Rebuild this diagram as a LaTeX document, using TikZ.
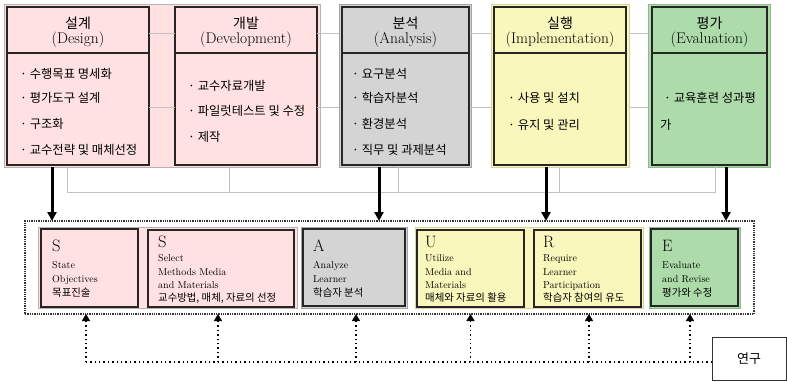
\documentclass[tikz,border=0pt]{standalone}
\usepackage{fontspec}
\newfontfamily\kr{Noto Sans CJK KR}
\usetikzlibrary{arrows.meta}
\definecolor{pinkf}{HTML}{FFE1E1}
\definecolor{pinkb}{HTML}{BFAEAE}
\definecolor{greyf}{HTML}{D4D4D4}
\definecolor{greyb}{HTML}{A4A4A4}
\definecolor{yelf}{HTML}{FAF7BD}
\definecolor{yelb}{HTML}{D6D3A0}
\definecolor{grnf}{HTML}{ADDBAA}
\definecolor{grnb}{HTML}{8DBB8A}
\definecolor{glc}{HTML}{C2C2C2}
\begin{document}
\begin{tikzpicture}[x=1pt,y=-1pt,
  bgbox/.style={draw, line width=1pt, inner sep=0pt, outer sep=0pt, anchor=north west},
  inbox/.style={draw=black!85, line width=1.2pt, inner sep=0pt, outer sep=0pt, anchor=north west},
  gl/.style={draw=glc, line width=0.8pt},
  bigarrow/.style={line width=3pt, -{Triangle[length=9pt,width=9pt]}},
  dotline/.style={line width=1.4pt, dash pattern=on 1.4pt off 3pt},
  dotarrow/.style={line width=1.4pt, dash pattern=on 1.4pt off 3pt, -{Triangle[length=7pt,width=8pt]}},
  kbody/.style={font=\kr\fontsize{12.3}{14}\selectfont, anchor=base west, inner sep=0pt},
  khead/.style={font=\kr\fontsize{14}{16}\selectfont, anchor=base, inner sep=0pt},
  ehead/.style={font=\fontsize{15.5}{17}\selectfont, anchor=base, inner sep=0pt},
  bigl/.style={font=\fontsize{16.5}{18}\selectfont, anchor=base west, inner sep=0pt},
  esmall/.style={font=\fontsize{10}{11}\selectfont, anchor=base west, inner sep=0pt},
  ksmall/.style={font=\kr\fontsize{10.4}{11}\selectfont, anchor=base west, inner sep=0pt}]
\useasboundingbox (0,0) rectangle (787,381);
\fill[white] (0,0) rectangle (787,381);

% ---------- top row ----------
\node[bgbox, draw=pinkb, fill=pinkf, minimum width=316pt, minimum height=163pt] (pinkbg) at (4,4) {};
\node[inbox, fill=pinkf, minimum width=142pt, minimum height=158pt] (design) at (7,7) {};
\node[inbox, fill=pinkf, minimum width=142pt, minimum height=158pt] (dev) at (175,7) {};
\node[bgbox, draw=greyb, fill=greyf, minimum width=132pt, minimum height=163pt] (anabg) at (339,4) {};
\node[inbox, fill=greyf, minimum width=127pt, minimum height=158pt] (ana) at (342,7) {};
\node[bgbox, draw=yelb, fill=yelf, minimum width=138pt, minimum height=163pt] (impbg) at (491,4) {};
\node[inbox, fill=yelf, minimum width=132pt, minimum height=158pt] (imp) at (494,7) {};
\node[bgbox, draw=grnb, fill=grnf, minimum width=122pt, minimum height=163pt] (evabg) at (648,4) {};
\node[inbox, fill=grnf, minimum width=115pt, minimum height=158pt] (eva) at (652,7) {};

% header dividers
\coordinate (hdy) at (0,53);
\foreach \b in {design,dev,ana,imp,eva}
  \draw[black!85, line width=1.1pt] (\b.west |- hdy) -- (\b.east |- hdy);

% grey connecting lines between boxes
\coordinate (gy1) at (0,33);
\coordinate (gy2) at (0,107);
\foreach \y in {gy1,gy2}{
  \draw[gl] (design.east |- \y) -- (dev.west |- \y);
  \draw[gl] (dev.east |- \y) -- (anabg.west |- \y);
  \draw[gl] (anabg.east |- \y) -- (impbg.west |- \y);
  \draw[gl] (impbg.east |- \y) -- (evabg.west |- \y);
}

% grey bracket under the top row
\coordinate (gb) at (0,192);
\coordinate (gs1) at ([xshift=63pt]pinkbg.south west);
\coordinate (gs2) at ([xshift=225pt]pinkbg.south west);
\coordinate (gs3) at ([xshift=59pt]anabg.south west);
\coordinate (gs4) at ([xshift=68pt]impbg.south west);
\coordinate (gs5) at ([xshift=67pt]evabg.south west);
\draw[gl] (gs1) -- (gs1 |- gb) -- (gs5 |- gb) -- (gs5);
\draw[gl] (gs2) -- (gs2 |- gb);
\draw[gl] (gs3) -- (gs3 |- gb);
\draw[gl] (gs4) -- (gs4 |- gb);

% headers
\node[khead] (dh1) at (78,28) {설계};
\node[ehead] (dh2) at (78,43.5) {(Design)};
\node[khead] (vh1) at (246,28) {개발};
\node[ehead] (vh2) at (246,43.5) {(Development)};
\node[khead] (ah1) at (405.5,28) {분석};
\node[ehead] (ah2) at (405.5,43.5) {(Analysis)};
\node[khead] (ih1) at (560,28) {실행};
\node[ehead] (ih2) at (560,43.5) {(Implementation)};
\node[khead] (eh1) at (709.5,28) {평가};
\node[ehead] (eh2) at (709.5,43.5) {(Evaluation)};

% body texts
\node[kbody] (db1) at (20,78) {· 수행목표 명세화};
\node[kbody] (db2) at (20,102.5) {· 평가도구 설계};
\node[kbody] (db3) at (20,128) {· 구조화};
\node[kbody] (db4) at (20,154.5) {· 교수전략 및 매체선정};
\node[kbody] (vb1) at (188,90) {· 교수자료개발};
\node[kbody] (vb2) at (188,115) {· 파일럿테스트 및 수정};
\node[kbody] (vb3) at (188,141) {· 제작};
\node[kbody] (ab1) at (352,78) {· 요구분석};
\node[kbody] (ab2) at (352,102.5) {· 학습자분석};
\node[kbody] (ab3) at (352,128) {· 환경분석};
\node[kbody] (ab4) at (352,154.5) {· 직무 및 과제분석};
\node[kbody] (ib1) at (508,102.5) {· 사용 및 설치};
\node[kbody] (ib2) at (508,129) {· 유지 및 관리};
\node[kbody] (eb1) at (664,102.5) {· 교육훈련 성과평};
\node[kbody] (eb2) at (660,129) {가};

% ---------- bottom row ----------
\node[inner sep=0pt, outer sep=0pt, anchor=north west, draw=black!80, line width=1.3pt, densely dotted, minimum width=729pt, minimum height=93pt] (frame) at (25,221) {};
\node[bgbox, draw=pinkb, fill=pinkf, minimum width=259pt, minimum height=81pt] (pband) at (38,227) {};
\node[inbox, fill=pinkf, minimum width=97pt, minimum height=78pt] (s1) at (41,229) {};
\node[inbox, fill=pinkf, minimum width=146pt, minimum height=77pt] (s2) at (148,230) {};
\node[bgbox, draw=greyb, fill=greyf, minimum width=106pt, minimum height=81pt] (abg) at (301,227) {};
\node[inbox, fill=greyf, minimum width=102pt, minimum height=77pt] (a) at (303,229) {};
\node[bgbox, draw=yelb, fill=yelf, minimum width=228pt, minimum height=81pt] (yband) at (415,227) {};
\node[inbox, fill=yelf, minimum width=107pt, minimum height=77pt] (u) at (417,230) {};
\node[inbox, fill=yelf, minimum width=107pt, minimum height=77pt] (r) at (534,230) {};
\node[bgbox, draw=grnb, fill=grnf, minimum width=91pt, minimum height=81pt] (ebg) at (649,227) {};
\node[inbox, fill=grnf, minimum width=87pt, minimum height=77pt] (e) at (651,229) {};

% bottom texts
\node[bigl] (s1a) at (52,251) {S};
\node[esmall] (s1b) at (52,268) {State};
\node[esmall] (s1c) at (52,282) {Objectives};
\node[ksmall] (s1d) at (52,296.5) {목표진술};

\node[bigl] (s2a) at (158,247) {S};
\node[esmall] (s2b) at (158,261) {Select};
\node[esmall] (s2c) at (158,275) {Methods Media};
\node[esmall] (s2d) at (158,288) {and Materials};
\node[ksmall] (s2e) at (158,301.5) {교수방법, 매체, 자료의 선정};

\node[bigl] (aa) at (313,251) {A};
\node[esmall] (ab) at (313,268) {Analyze};
\node[esmall] (ac) at (313,282) {Learner};
\node[ksmall] (ad) at (313,296.5) {학습자 분석};

\node[bigl] (ua) at (425,247) {U};
\node[esmall] (ubb) at (425,261) {Utilize};
\node[esmall] (uc) at (425,275) {Media and};
\node[esmall] (ud) at (425,288) {Materials};
\node[ksmall] (ue) at (425,301.5) {매체와 자료의 활용};

\node[bigl] (ra) at (543,247) {R};
\node[esmall] (rb) at (543,261) {Require};
\node[esmall] (rc) at (543,275) {Learner};
\node[esmall] (rd) at (543,288) {Participation};
\node[ksmall] (re) at (543,301.5) {학습자 참여의 유도};

\node[bigl] (ea) at (662,251) {E};
\node[esmall] (eeb) at (662,268) {Evaluate};
\node[esmall] (ec) at (662,282) {and Revise};
\node[ksmall] (ed) at (662,296.5) {평가와 수정};

% thick arrows top -> bottom
\coordinate (ta1) at ([xshift=48pt]pinkbg.south west);
\coordinate (ta2) at ([xshift=40pt]anabg.south west);
\coordinate (ta3) at ([xshift=55pt]impbg.south west);
\coordinate (ta4) at ([xshift=78pt]evabg.south west);
\foreach \t in {ta1,ta2,ta3,ta4}
  \draw[bigarrow] (\t) -- (\t |- frame.north);

% research box and dotted feedback arrows
\node[draw=black!80, line width=0.9pt, inner sep=0pt, outer sep=0pt, anchor=north west, minimum width=74pt, minimum height=43pt, font=\kr\fontsize{13}{15}\selectfont] (research) at (712,337) {연구};
\coordinate (hl) at ([yshift=-3.5pt]research.west);
\coordinate (da1) at ([xshift=-3.5pt]s1.south);
\coordinate (da2) at ([xshift=-3pt]s2.south);
\coordinate (da3) at ([xshift=2pt]a.south);
\coordinate (da4) at (u.south);
\coordinate (da5) at ([xshift=1.5pt]r.south);
\coordinate (da6) at ([xshift=-4.5pt]e.south);
\draw[dotline] (hl) -- (da1 |- hl);
\foreach \d in {da1,da2,da3,da4,da5,da6}
  \draw[dotarrow] (\d |- hl) -- (\d |- frame.south);
\end{tikzpicture}
\end{document}
